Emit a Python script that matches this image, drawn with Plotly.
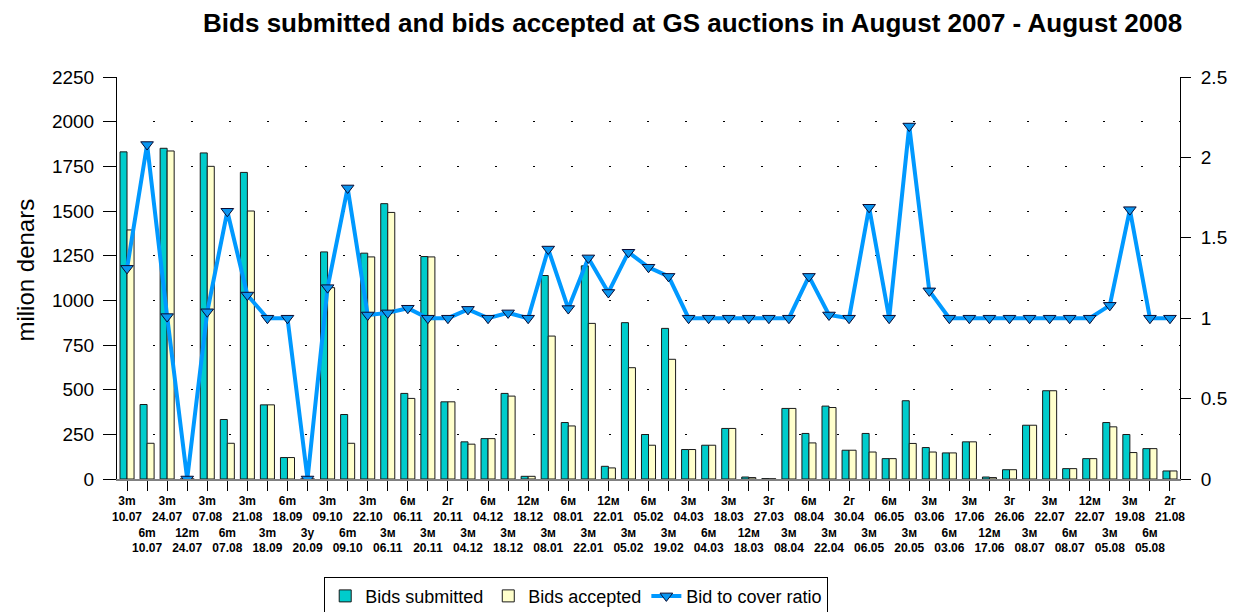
import plotly.graph_objects as go

tenors = ["3m", "6m", "3m", "12m", "3m", "6m", "3m", "3m", "6m", "3y",
          "3m", "6m", "3m", "3м", "6м", "3м", "2г", "3м", "6м", "3м",
          "12м", "3м", "6м", "3м", "12м", "3м", "6м", "3м", "3м", "6м",
          "3м", "12м", "3г", "3м", "6м", "3м", "2г", "3м", "6м", "3м",
          "3м", "6м", "3м", "12м", "3г", "3м", "3м", "6м", "12м", "3м",
          "3м", "6м", "2г"]
dates = ["10.07", "10.07", "24.07", "24.07", "07.08", "07.08", "21.08", "18.09", "18.09", "20.09",
         "09.10", "09.10", "22.10", "06.11", "06.11", "20.11", "20.11", "04.12", "04.12", "18.12",
         "18.12", "08.01", "08.01", "22.01", "22.01", "05.02", "05.02", "19.02", "04.03", "04.03",
         "18.03", "18.03", "27.03", "08.04", "08.04", "22.04", "30.04", "06.05", "06.05", "20.05",
         "03.06", "03.06", "17.06", "17.06", "26.06", "08.07", "22.07", "08.07", "22.07", "05.08",
         "19.08", "05.08", "21.08"]

bids_submitted = [1831, 417, 1851, 0, 1825, 333, 1716, 415, 120, 0,
                  1271, 361, 1264, 1541, 479, 1245, 432, 208, 226, 479,
                  15, 1139, 316, 1193, 71, 875, 249, 843, 165, 189,
                  283, 11, 2, 395, 255, 408, 161, 255, 114, 438,
                  176, 146, 208, 11, 52, 301, 494, 58, 114, 316,
                  249, 170, 45]
bids_accepted = [1394, 200, 1836, 0, 1750, 200, 1500, 415, 120, 0,
                 1071, 200, 1243, 1492, 451, 1243, 432, 195, 226, 464,
                 15, 800, 297, 871, 62, 623, 189, 670, 165, 189,
                 283, 8, 1, 395, 202, 400, 161, 151, 114, 199,
                 151, 146, 208, 8, 52, 301, 494, 58, 114, 292,
                 148, 170, 45]
bid_to_cover = [1.31, 2.08, 1.01, 0, 1.04, 1.665, 1.144, 1.0, 1.0, 0,
                1.19, 1.81, 1.02, 1.033, 1.062, 1.0, 1.0, 1.055, 1.0, 1.033,
                1.0, 1.43, 1.06, 1.375, 1.16, 1.41, 1.317, 1.26, 1.0, 1.0,
                1.0, 1.0, 1.0, 1.0, 1.26, 1.02, 1.0, 1.69, 1.0, 2.195,
                1.17, 1.0, 1.0, 1.0, 1.0, 1.0, 1.0, 1.0, 1.0, 1.08,
                1.675, 1.0, 1.0]

x = list(range(len(tenors)))
ticktext = []
for i, (t, d) in enumerate(zip(tenors, dates)):
    if i % 2 == 0:
        ticktext.append(f"{t}<br>{d}")
    else:
        ticktext.append(f"\u00a0<br>\u00a0<br>{t}<br>{d}")

FONT = "Arial, Liberation Sans, sans-serif"

fig = go.Figure()
fig.add_trace(go.Bar(
    x=x, y=bids_submitted, name="Bids submitted",
    marker=dict(color="#00CCCC", line=dict(color="#1a1a1a", width=1)),
))
fig.add_trace(go.Bar(
    x=x, y=bids_accepted, name="Bids accepted",
    marker=dict(color="#FFFFCC", line=dict(color="#1a1a1a", width=1)),
))
fig.add_trace(go.Scatter(
    x=x, y=bid_to_cover, name="Bid to cover ratio", yaxis="y2",
    mode="lines+markers",
    line=dict(color="#0099FF", width=4),
    marker=dict(symbol="triangle-down", size=11, color="#0A96F0",
                line=dict(color="#0a0a30", width=1)),
))

fig.add_annotation(
    text="milion denars", textangle=-90, showarrow=False,
    xref="paper", yref="paper", x=-0.086, y=0.52,
    xanchor="center", yanchor="middle",
    font=dict(size=24, family=FONT, color="black"),
)

fig.update_layout(
    width=1239, height=612,
    margin=dict(l=117, r=59, t=77, b=133, autoexpand=False),
    paper_bgcolor="white", plot_bgcolor="white",
    font=dict(family=FONT, color="black"),
    title=dict(text="<b>Bids submitted and bids accepted at GS auctions in August 2007 - August 2008</b>",
               font=dict(size=26, family=FONT, color="black"),
               x=0.559, xanchor="center", y=0.963, yanchor="middle"),
    barmode="group", bargap=0.3, bargroupgap=0,
    showlegend=True,
    legend=dict(orientation="h", x=0.432, xanchor="center", y=-0.243, yanchor="top",
                bordercolor="black", borderwidth=1, bgcolor="white",
                font=dict(size=18, family=FONT), traceorder="normal"),
    xaxis=dict(
        range=[-0.5, len(tenors) - 0.5],
        tickmode="array", tickvals=x, ticktext=ticktext,
        tickangle=0, automargin=False,
        tickfont=dict(size=12, family=FONT, color="black", weight="bold"),
        ticks="outside", ticklen=10, tickcolor="black",
        showline=True, linecolor="#808080", linewidth=2,
        showgrid=False, zeroline=False,
    ),
    yaxis=dict(
        range=[0, 2250], dtick=250, tick0=0, automargin=False,
        tickfont=dict(size=19, family=FONT),
        ticks="outside", ticklen=13, tickcolor="black", ticklabelstandoff=5,
        showline=True, linecolor="black", linewidth=1,
        showgrid=True, gridcolor="black", gridwidth=1, griddash="0px,36px,2px,0px",
        zeroline=False,
    ),
    yaxis2=dict(
        range=[0, 2.5], dtick=0.5, tick0=0, overlaying="y", side="right",
        automargin=False,
        tickfont=dict(size=19, family=FONT),
        ticks="outside", ticklen=10, tickcolor="black", ticklabelstandoff=6,
        showline=True, linecolor="black", linewidth=1,
        showgrid=False, zeroline=False,
    ),
)

fig.write_html("out.html", config={"displayModeBar": False},
               post_script="document.body.style.margin='0';document.body.style.overflow='hidden';")
